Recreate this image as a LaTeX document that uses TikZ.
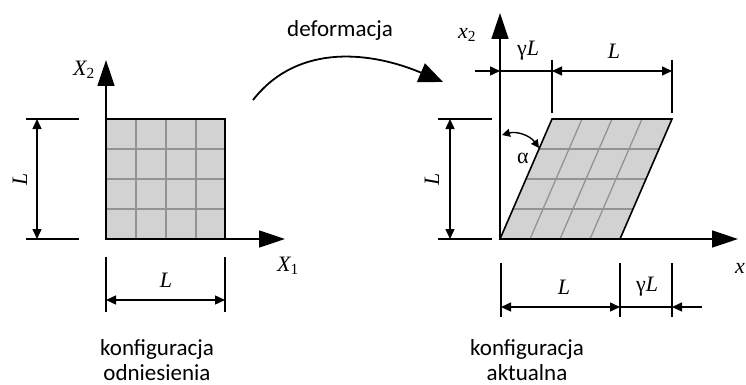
\documentclass[tikz,border=0pt]{standalone}
\usepackage{fontspec}
\setmainfont{Carlito}
\newfontfamily\tms{Liberation Serif}
\usetikzlibrary{arrows.meta}

\begin{document}
\begin{tikzpicture}[x=1pt, y=-1pt,
  axis/.style={line width=1.6pt, -{Triangle[length=26pt, width=17pt]}},
  dimln/.style={line width=1.4pt, {Triangle[length=10pt, width=9pt]}-{Triangle[length=10pt, width=9pt]}},
  dimend/.style={line width=1.4pt, -{Triangle[length=10pt, width=9pt]}},
  extln/.style={line width=1.4pt},
  gridln/.style={draw=gray!85, line width=1.3pt},
  word/.style={font=\fontsize{23}{25}\selectfont, align=center, inner sep=1pt},
  sym/.style={font=\tms\fontsize{22}{24}\selectfont}]
  \useasboundingbox (0,0) rectangle (746,385);
  % reference configuration
  \coordinate (O1) at (106,239);
  \coordinate (S1) at (225,119);
  \fill[gray!35] (O1) rectangle (S1);
  \foreach \k in {1,2,3} {
    \draw[gridln] (106+30*\k,239) -- (106+30*\k,119);
    \draw[gridln] (106,239-30*\k) -- (225,239-30*\k);
  }
  \draw[line width=1.6pt] (O1) rectangle (S1);
  \coordinate (X1tip) at (285,239);
  \coordinate (X2tip) at (106,60);
  \draw[axis] (O1) -- (X1tip);
  \draw[axis] (O1) -- (X2tip);
  \node[sym] (X1) at (288,266) {\itshape X\textsubscript{\upshape 1}};
  \node[sym] (X2) at (84,70) {\itshape X\textsubscript{\upshape 2}};
  % its dimensions
  \coordinate (lA) at (37,119);
  \coordinate (lB) at (37,239);
  \draw[extln] (26,119) -- (79,119);
  \draw[extln] (26,239) -- (79,239);
  \draw[dimln] (lA) -- (lB);
  \node[sym, rotate=90] (L1) at (20,179) {\itshape L};
  \coordinate (bA) at (106,300);
  \coordinate (bB) at (225,300);
  \draw[extln] (106,257) -- (106,312);
  \draw[extln] (225,257) -- (225,312);
  \draw[dimln] (bA) -- (bB);
  \node[sym] (L2) at (166,280) {\itshape L};
  \node[word] (ref) at (157,360) {konfiguracja\\odniesienia};

  % deformation arrow
  \coordinate (dA) at (253,100);
  \coordinate (dB) at (443,82);
  \draw[line width=1.8pt, -{Triangle[length=24pt, width=20pt]}] (dA) to[out=52, in=157] (dB);
  \node[word] (def) at (340,30) {deformacja};

  % current configuration
  \coordinate (O2) at (500,239);
  \fill[gray!35] (O2) -- (620,239) -- (672,119) -- (552,119) -- cycle;
  \foreach \k in {1,2,3} {
    \draw[gridln] (500+30*\k,239) -- (552+30*\k,119);
    \draw[gridln] (500+13*\k,239-30*\k) -- (620+13*\k,239-30*\k);
  }
  \draw[line width=1.6pt] (O2) -- (620,239) -- (672,119) -- (552,119) -- cycle;
  \coordinate (xtip) at (738,239);
  \coordinate (x2tip) at (500,13);
  \draw[axis] (O2) -- (xtip);
  \draw[axis] (O2) -- (x2tip);
  \node[sym] (x) at (740,268) {\itshape x};
  \node[sym] (x2) at (467,35) {\itshape x\textsubscript{\upshape 2}};
  % angle
  \coordinate (aA) at (502,135);
  \coordinate (aB) at (539,148);
  \draw[line width=1.4pt, {Triangle[length=8pt, width=8pt]}-{Triangle[length=8pt, width=8pt]}] (aA) to[bend left=35] (aB);
  \node[sym] (alpha) at (523,158) {α};
  % top dimensions
  \coordinate (tA) at (475,71);
  \coordinate (tB) at (500,71);
  \coordinate (tC) at (552,71);
  \coordinate (tD) at (672,71);
  \draw[extln] (552,60) -- (552,113);
  \draw[extln] (672,60) -- (672,113);
  \draw[dimend] (tA) -- (tB);
  \draw[extln] (tB) -- (tC);
  \draw[dimln] (tC) -- (tD);
  \node[sym] (gL1) at (528,51) {γ\itshape L};
  \node[sym] (L4) at (614,51) {\itshape L};
  % left dimension
  \coordinate (rA) at (450,119);
  \coordinate (rB) at (450,239);
  \draw[extln] (438,119) -- (492,119);
  \draw[extln] (438,239) -- (492,239);
  \draw[dimln] (rA) -- (rB);
  \node[sym, rotate=90] (L3) at (432,179) {\itshape L};
  % bottom dimensions
  \coordinate (uA) at (501,307);
  \coordinate (uB) at (620,307);
  \coordinate (uC) at (672,307);
  \coordinate (uD) at (702,307);
  \draw[extln] (501,263) -- (501,317);
  \draw[extln] (620,263) -- (620,317);
  \draw[extln] (672,263) -- (672,317);
  \draw[dimln] (uA) -- (uB);
  \draw[extln] (uB) -- (uC);
  \draw[dimend] (uD) -- (uC);
  \node[sym] (L5) at (564,287) {\itshape L};
  \node[sym] (gL2) at (647,287) {γ\itshape L};
  \node[word] (cur) at (527,360) {konfiguracja\\aktualna};
\end{tikzpicture}
\end{document}
